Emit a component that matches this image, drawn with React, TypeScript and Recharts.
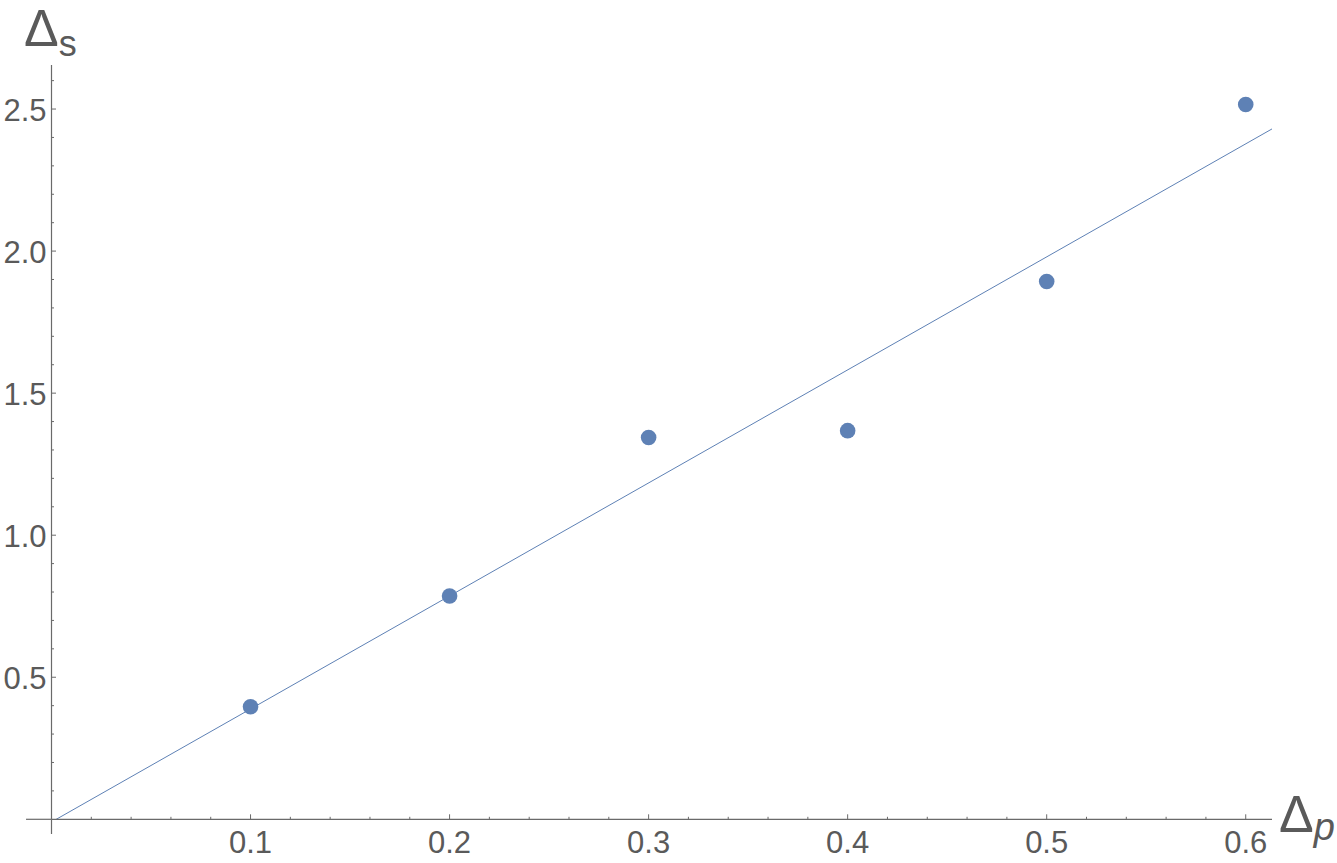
import { ComposedChart, Scatter, Line, XAxis, YAxis, ReferenceLine } from 'recharts';

const deltaP = [0.1, 0.2, 0.3, 0.4, 0.5, 0.6];
const deltaS = [0.396, 0.786, 1.344, 1.368, 1.893, 2.516];

// fitted straight line, two end points
const fitX = [0, 0.6132];
const fitY = [-0.0095, 2.43];

const xTicks = [
  0.02, 0.04, 0.06, 0.08, 0.1, 0.12, 0.14, 0.16, 0.18, 0.2,
  0.22, 0.24, 0.26, 0.28, 0.3, 0.32, 0.34, 0.36, 0.38, 0.4,
  0.42, 0.44, 0.46, 0.48, 0.5, 0.52, 0.54, 0.56, 0.58, 0.6,
];
const yTicks = [
  0.1, 0.2, 0.3, 0.4, 0.5, 0.6, 0.7, 0.8, 0.9, 1.0,
  1.1, 1.2, 1.3, 1.4, 1.5, 1.6, 1.7, 1.8, 1.9, 2.0,
  2.1, 2.2, 2.3, 2.4, 2.5, 2.6,
];
const xMajor = ['0.1', '0.2', '0.3', '0.4', '0.5', '0.6'];
const yMajor = ['0.5', '1.0', '1.5', '2.0', '2.5'];

const BLUE = '#5e81b5';
const AXIS = '#6a6a6a';
const TEXT = '#5a5a5a';
const FONT = '"Liberation Sans", Arial, sans-serif';

const points = deltaP.map((x, i) => ({ x, y: deltaS[i] }));
const fit = fitX.map((x, i) => ({ x, y: fitY[i] }));

function XTick(props: any) {
  const { x, y, payload } = props;
  const label = xMajor.find((t) => Math.abs(parseFloat(t) - payload.value) < 1e-6);
  return (
    <g>
      <line x1={x} x2={x} y1={y} y2={y - (label ? 5 : 2.5)} stroke={AXIS} strokeWidth={1} />
      {label && (
        <text x={x} y={y + 34} textAnchor="middle" fill={TEXT} fontSize={31} fontFamily={FONT}>
          {label}
        </text>
      )}
    </g>
  );
}

function YTick(props: any) {
  const { x, y, payload } = props;
  const label = yMajor.find((t) => Math.abs(parseFloat(t) - payload.value) < 1e-6);
  return (
    <g>
      <line x1={x} x2={x + (label ? 4.5 : 2.5)} y1={y} y2={y} stroke={AXIS} strokeWidth={1} />
      {label && (
        <text x={x - 5} y={y + 12} textAnchor="end" fill={TEXT} fontSize={31} fontFamily={FONT}>
          {label}
        </text>
      )}
    </g>
  );
}

const axisLabel = {
  position: 'absolute' as const,
  color: TEXT,
  fontFamily: FONT,
  fontSize: 52,
  lineHeight: '52px',
  whiteSpace: 'nowrap' as const,
};

export default function App() {
  return (
    <div style={{ position: 'absolute', left: 0, top: 0, width: 1337, height: 863, background: '#fff' }}>
      <ComposedChart width={1337} height={863} margin={{ top: 65, right: 65, left: 0, bottom: 0 }}>
        <XAxis
          type="number"
          dataKey="x"
          domain={[0, 0.6132]}
          ticks={xTicks}
          interval={0}
          height={43.7}
          tickSize={0}
          tickMargin={0}
          tickLine={false}
          axisLine={{ stroke: AXIS, strokeWidth: 1.2 }}
          tick={<XTick />}
        />
        <YAxis
          type="number"
          dataKey="y"
          domain={[0, 2.655]}
          allowDataOverflow
          ticks={yTicks}
          interval={0}
          width={51.5}
          tickSize={0}
          tickMargin={0}
          tickLine={false}
          axisLine={{ stroke: AXIS, strokeWidth: 1.2 }}
          tick={<YTick />}
        />
        <ReferenceLine
          segment={[{ x: -0.0128, y: 0 }, { x: 0, y: 0 }]}
          ifOverflow="visible"
          stroke={AXIS}
          strokeWidth={1.2}
        />
        <ReferenceLine
          segment={[{ x: 0, y: -0.0517 }, { x: 0, y: 0 }]}
          ifOverflow="visible"
          stroke={AXIS}
          strokeWidth={1.2}
        />
        <Line
          data={fit}
          dataKey="y"
          type="linear"
          stroke={BLUE}
          strokeWidth={1}
          dot={false}
          activeDot={false}
          isAnimationActive={false}
        />
        <Scatter
          data={points}
          dataKey="y"
          fill={BLUE}
          isAnimationActive={false}
          shape={(p: any) => <circle cx={p.cx} cy={p.cy} r={7.8} fill={BLUE} />}
        />
      </ComposedChart>
      <div style={{ ...axisLabel, left: 24, top: 2 }}>
        Δ<span style={{ fontSize: 36, position: 'relative', top: 10 }}>s</span>
      </div>
      <div style={{ ...axisLabel, left: 1279, top: 788 }}>
        Δ<span style={{ fontSize: 38, fontStyle: 'italic', position: 'relative', top: 8 }}>p</span>
      </div>
    </div>
  );
}
